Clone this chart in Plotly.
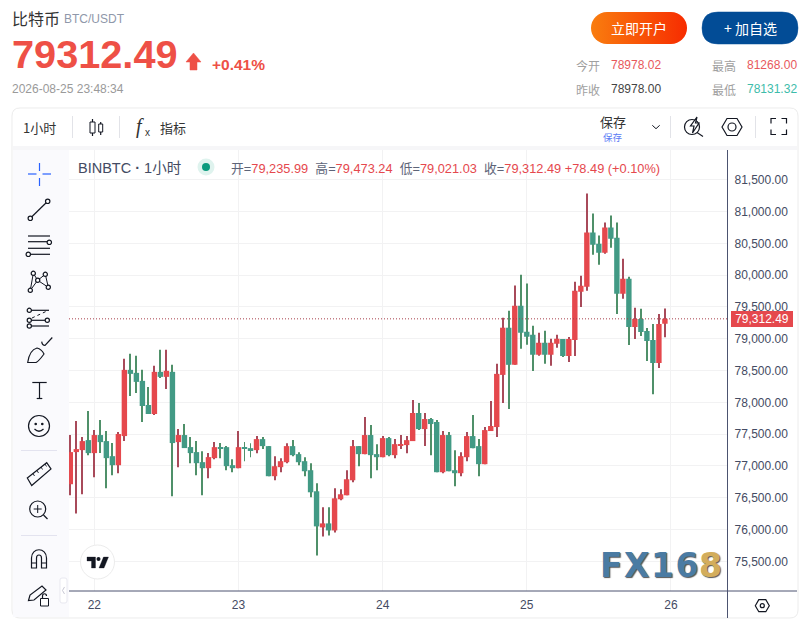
import base64
import pandas as pd
import plotly.graph_objects as go

# Hourly BTC candles
opens = [76712, 77217, 77248, 77406, 77201, 77485, 77390, 77153, 77011, 77469,
         78510, 78463, 78337, 77958, 77816, 78479, 78400, 78479, 77374, 77485,
         77296, 77217, 77059, 76964, 77122, 77295, 77295, 77011, 76964, 77295,
         77279, 77248, 77421, 77311, 76838, 76980, 77058, 77311, 77185, 77074,
         76932, 76601, 76033, 76096, 75985, 76475, 76538, 76774, 77311, 77185,
         77485, 77185, 77137, 77437, 77169, 77327, 77327, 77390, 77832, 77579,
         77737, 77690, 76901, 77485, 76932, 76885, 77137, 77469, 77311, 77027,
         77548, 77611, 78431, 79173, 78589, 79520, 79110, 79062, 78747, 78936,
         78747, 78920, 78995, 78727, 78980, 79737, 79816, 80668, 80494, 80352,
         80747, 80589, 79705, 79942, 79185, 79311, 79122, 78980, 78617, 79236]
highs = [77485, 77706, 77453, 77864, 77564, 77722, 77548, 77359, 77532, 78684,
         78763, 78731, 78510, 78242, 78574, 78826, 78826, 78589, 77580, 77658,
         77453, 77390, 77232, 77201, 77374, 77359, 77311, 77106, 77548, 77374,
         77358, 77469, 77453, 77311, 77153, 77122, 77358, 77406, 77216, 77137,
         77043, 76727, 76348, 76348, 76648, 76632, 76932, 77406, 77311, 77769,
         77642, 77342, 77469, 77453, 77421, 77484, 77469, 78037, 77989, 77832,
         77753, 77721, 77548, 77532, 77248, 77216, 77532, 77800, 77421, 77611,
         78021, 78605, 79331, 79441, 79836, 80004, 79867, 79205, 79094, 79126,
         78999, 79062, 78995, 79027, 79895, 79989, 81283, 80968, 80621, 80826,
         80936, 80826, 80258, 79974, 79485, 79469, 79169, 79232, 79390, 79473]
lows = [76538, 76250, 76554, 77169, 76822, 77201, 76649, 76854, 76885, 77390,
        78100, 78148, 77690, 77816, 77800, 78384, 78211, 76522, 76980, 77280,
        77043, 76854, 76538, 76806, 77106, 77122, 76933, 76901, 76964, 77074,
        77137, 77200, 77264, 76838, 76774, 76901, 77043, 77153, 77011, 76838,
        76506, 75591, 75891, 75907, 75954, 76459, 76538, 76743, 76995, 77185,
        76806, 76932, 77137, 77153, 77122, 77264, 77200, 77390, 77563, 77311,
        77169, 76901, 76885, 76916, 76680, 76838, 77074, 77279, 76838, 77027,
        77548, 77453, 77989, 77895, 78589, 78842, 78905, 78494, 78731, 78605,
        78573, 78857, 78711, 78632, 78727, 79500, 79753, 80321, 80163, 80337,
        80431, 79390, 79627, 78901, 78995, 79043, 78648, 78127, 78538, 79021]
closes = [77217, 77264, 77390, 77201, 77485, 77374, 77122, 77011, 77501, 78510,
          78447, 78321, 77942, 77816, 78479, 78400, 78495, 77359, 77485, 77280,
          77201, 77043, 76964, 77138, 77295, 77280, 76996, 76964, 77295, 77280,
          77248, 77421, 77311, 76838, 76995, 77074, 77311, 77169, 77058, 76916,
          76585, 76049, 76096, 75985, 76490, 76554, 76790, 77311, 77185, 77485,
          77169, 77137, 77437, 77169, 77342, 77342, 77405, 77832, 77579, 77737,
          77658, 76901, 77485, 76916, 76885, 77153, 77469, 77279, 77027, 77563,
          77627, 78447, 79173, 78589, 79520, 79094, 79031, 78747, 78936, 78747,
          78936, 78999, 78727, 78995, 79753, 79832, 80668, 80479, 80352, 80747,
          80573, 79705, 79942, 79185, 79311, 79106, 78964, 78617, 79232, 79312.49]
start_time = "2026-08-21 20:00"
day_ticks = ["2026-08-22", "2026-08-23", "2026-08-24", "2026-08-25", "2026-08-26"]
price_ticks = list(range(75500, 82000, 500))

UP = "#e5484d"
DOWN = "#429a85"
UP_WICK = "#a84a5a"
DOWN_WICK = "#4f9069"
INK = "#131722"
AXIS_TEXT = "#444b63"
SANS = "Liberation Sans, Noto Sans CJK SC"
CJK = "Noto Sans CJK SC, Liberation Sans"

times = pd.date_range(start_time, periods=len(opens), freq="h")
body_low = [min(o, c) for o, c in zip(opens, closes)]
body_size = [abs(c - o) for o, c in zip(opens, closes)]
body_color = [UP if c >= o else DOWN for o, c in zip(opens, closes)]
wick_size = [h - l for h, l in zip(highs, lows)]
wick_color = [UP_WICK if c >= o else DOWN_WICK for o, c in zip(opens, closes)]

fig = go.Figure()
# wicks are darker than the bodies, a Candlestick trace can't do that, so two bar traces
fig.add_trace(go.Bar(
    x=times, y=wick_size, base=lows, width=3600000 / 6,
    marker=dict(color=wick_color, line=dict(width=0)), showlegend=False,
))
fig.add_trace(go.Bar(
    x=times, y=body_size, base=body_low, width=3600000 * 0.9,
    marker=dict(color=body_color, line=dict(width=0)), showlegend=False,
))

shapes = []
notes = []
images = []


def px(x):
    return x / 810


def py(y):
    return 1 - y / 620


def add_line(x0, y0, x1, y1, color=INK, width=1.2, dash=None):
    shapes.append(dict(type="line", xref="paper", yref="paper", x0=px(x0), y0=py(y0), x1=px(x1), y1=py(y1),
                       line=dict(color=color, width=width, dash=dash)))


def add_box(x0, y0, x1, y1, fill, line=None):
    shapes.append(dict(type="rect", xref="paper", yref="paper", x0=px(x0), y0=py(y0), x1=px(x1), y1=py(y1),
                       fillcolor=fill, line=dict(color=line or fill, width=1 if line else 0), layer="below"))


def add_dot(cx, cy, r, fill="white", line=INK, width=1.2):
    shapes.append(dict(type="circle", xref="paper", yref="paper", x0=px(cx - r), y0=py(cy - r), x1=px(cx + r), y1=py(cy + r),
                       fillcolor=fill, line=dict(color=line, width=width)))


def add_path(cmds, fill="rgba(0,0,0,0)", line=INK, width=1.2):
    # cmds holds "M x y L x y ..." in screen pixels
    out, nums = [], []
    for tok in cmds.split():
        if tok.isalpha():
            out.append(tok)
        else:
            nums.append(float(tok))
            if len(nums) == 2:
                out.append(f"{px(nums[0]):.5f},{py(nums[1]):.5f}")
                nums = []
    shapes.append(dict(type="path", xref="paper", yref="paper", path=" ".join(out), fillcolor=fill,
                       line=dict(color=line, width=width)))


def add_text(x, y, text, size=12, color=INK, family=SANS, anchor="left", **extra):
    notes.append(dict(xref="paper", yref="paper", x=px(x), y=py(y), text=text, showarrow=False, xanchor=anchor,
                      yanchor="middle", borderpad=0, borderwidth=0, font=dict(size=size, color=color, family=family, **extra)))


# card, toolbars and the axis frame
add_path("M 20 108 L 790 108 Q 798 108 798 116 L 798 610 Q 798 618 790 618 L 20 618 Q 12 618 12 610 L 12 116 Q 12 108 20 108 Z",
         line="#ececec", width=1)
shapes[-1]["layer"] = "below"
add_box(13, 146, 797, 150, "#f6f6f8")
add_box(13, 150, 69, 617, "#fafafd")
add_line(727.5, 150, 727.5, 618, "#4c5370", 1)
add_line(69, 591, 797, 591, "#4c5370", 1)

# page header
add_text(12, 18, "比特币", 16, "#333333", CJK)
add_text(64, 19, "BTC/USDT", 12, "#8f98aa")
add_text(12, 54, "<b>79312.49</b>", 39.7, "#ee5046")
add_path("M 193.5 53 L 201 62 L 197 62 L 197 70 L 190 70 L 190 62 L 186 62 Z", fill="#ee5046", line="#ee5046", width=0.5)
add_text(212, 64, "<b>+0.41%</b>", 15.5, "#ee5046")
add_text(12, 89, "2026-08-25 23:48:34", 12, "#9a9a9a")

gradient = ('<svg xmlns="http://www.w3.org/2000/svg" width="96" height="32"><defs><linearGradient id="g">'
            '<stop offset="0" stop-color="#f97d0f"/><stop offset="1" stop-color="#f72c00"/></linearGradient></defs>'
            '<rect width="96" height="32" rx="16" fill="url(#g)"/></svg>')
images.append(dict(source="data:image/svg+xml;base64," + base64.b64encode(gradient.encode()).decode(),
                   xref="paper", yref="paper", x=px(591), y=py(12), sizex=96 / 810, sizey=32 / 620,
                   xanchor="left", yanchor="top", sizing="stretch", layer="below"))
add_text(639, 28, "立即开户", 14, "white", CJK, "center")
add_path("M 718 12 L 782 12 Q 798 12 798 28 Q 798 44 782 44 L 718 44 Q 702 44 702 28 Q 702 12 718 12 Z", fill="#024c96", line="#024c96", width=0.5)
add_text(750, 28, "+ 加自选", 14, "white", CJK, "center")

add_text(576, 65, "今开", 12, "#a0a0a0", CJK)
add_text(611, 65, "78978.02", 12, "#e8585c")
add_text(712, 65, "最高", 12, "#a0a0a0", CJK)
add_text(747, 65, "81268.00", 12, "#e8585c")
add_text(576, 89, "昨收", 12, "#a0a0a0", CJK)
add_text(611, 89, "78978.00", 12, "#444444")
add_text(712, 89, "最低", 12, "#a0a0a0", CJK)
add_text(747, 89, "78131.32", 12, "#3dbcaa")

# top toolbar
add_text(23, 128, "1小时", 13, "#333333", CJK)
add_line(72.5, 116, 72.5, 138, "#e2e3e8", 1)
add_line(119.5, 116, 119.5, 138, "#e2e3e8", 1)
add_line(92.5, 119, 92.5, 136)
add_box(90, 122, 95, 133, "white", INK)
shapes[-1]["layer"] = "above"
add_line(100.7, 122, 100.7, 135)
add_box(98.7, 124, 102.7, 132, "white", INK)
shapes[-1]["layer"] = "above"
add_text(136, 126.5, "<i>f</i>", 20, "#333333", "Liberation Serif")
add_text(145, 133, "x", 10, "#333333", "Liberation Sans")
add_text(160, 128, "指标", 13, "#333333", CJK)
add_text(613, 121.5, "保存", 13, "#333333", CJK, "center")
add_text(613, 137, "保存", 9.5, "#5b7cf5", CJK, "center")
add_path("M 652.3 125.3 L 656 128.7 L 659.7 125.3", width=1)
add_line(670.5, 116, 670.5, 138, "#e2e3e8", 1)
add_line(755.5, 116, 755.5, 138, "#e2e3e8", 1)
add_dot(692, 127, 7.5)
add_line(697, 132.5, 703, 136.5)
add_path("M 697 117 L 690.5 126 L 694 126 L 692.5 133 L 699 123 L 695.5 123 Z", fill="white")
add_path("M 722 127 L 727 118.5 L 737 118.5 L 742 127 L 737 135.5 L 727 135.5 Z")
add_dot(732, 127, 4)
for cx, cy, dx, dy in [(771, 118.5, 1, 1), (786.5, 118.5, -1, 1), (771, 134.5, 1, -1), (786.5, 134.5, -1, -1)]:
    add_path(f"M {cx + 5 * dx} {cy} L {cx} {cy} L {cx} {cy + 5 * dy}")

# left drawing tools
add_line(28, 174, 36.5, 174, "#2962ff", 1.2)
add_line(42.5, 174, 51, 174, "#2962ff", 1.2)
add_line(39.5, 163, 39.5, 171, "#2962ff", 1.2)
add_line(39.5, 178, 39.5, 186, "#2962ff", 1.2)

add_line(30.3, 218.3, 47.7, 201.3)
add_dot(30.3, 218.3, 2.2)
add_dot(47.7, 201.3, 2.2)

for ly in [236, 241.7, 248.3, 254.3]:
    add_line(28, ly, 50, ly)
add_dot(49.3, 242.3, 2.2)
add_dot(28.3, 254.3, 2.2)

pts = [(33.3, 273.3), (45.3, 274.3), (37.7, 280.3), (30.3, 290.3), (48.3, 287.3)]
for a, b in [(3, 0), (0, 2), (2, 1), (1, 4), (4, 2), (2, 3)]:
    add_line(pts[a][0], pts[a][1], pts[b][0], pts[b][1], width=1)
for cx, cy in pts:
    add_dot(cx, cy, 2.1)

add_line(29, 310.3, 49, 310.3)
add_line(29, 320.3, 47, 320.3)
add_line(29, 326, 49, 326)
add_line(32, 318, 47, 311, width=1, dash="dot")
for cx, cy in [(29.3, 310.3), (29.3, 320.3), (47.3, 320.3), (29.3, 326)]:
    add_dot(cx, cy, 2.1)

add_path("M 27.7 362.5 C 29 354 33 349 37 348 C 41 349 43 352 44 354 C 41 358 39 361 36 362.5 Z")
add_path("M 41.7 341.7 C 42 344 43 345.5 45 345.5 L 52.3 337.5")

add_line(32.3, 382.5, 46.7, 382.5)
add_line(39.5, 382.5, 39.5, 398.5)
add_line(36.7, 398.5, 42.3, 398.5)

add_dot(39, 426, 10.5, fill="rgba(0,0,0,0)")
add_dot(35.7, 424, 0.7, fill=INK)
add_dot(42.3, 424, 0.7, fill=INK)
add_path("M 34.5 429 Q 39 433.5 43.5 429")

add_line(21, 450.5, 57, 450.5, "#e3e3ef", 1)
add_path("M 27.3 478 L 46.7 462.7 L 51 469 L 31.7 485.5 Z")
for tx, ty in [(33, 473.5), (37, 470.5), (41, 467), (45, 464)]:
    add_line(tx, ty, tx + 1.5, ty + 2.5, width=0.9)
add_dot(37.7, 509, 8, fill="rgba(0,0,0,0)")
add_line(43.5, 515, 47.5, 519)
add_line(33.7, 509, 41.7, 509, width=1)
add_line(37.7, 505, 37.7, 513, width=1)
add_line(21, 535.5, 57, 535.5, "#e3e3ef", 1)

add_path("M 31.5 568 L 31.5 558 C 31.5 547 46.5 547 46.5 558 L 46.5 568 L 41.5 568 L 41.5 558 C 41.5 554 36.5 554 36.5 558 L 36.5 568 Z")
add_line(31.5, 563, 36.5, 563, width=1)
add_line(41.5, 563, 46.5, 563, width=1)
add_path("M 28.5 600.5 L 30 595 L 42 586 L 46 590 L 34 600 Z")
add_box(40.5, 598.5, 48.5, 606, "white", INK)
shapes[-1]["layer"] = "above"
add_path("M 42.5 598.5 L 42.5 596 C 42.5 593 46.5 593 46.5 596")
add_path("M 60 580 Q 60 578 62 578 L 65 578 Q 67 578 67 580 L 67 601 Q 67 603 65 603 L 62 603 Q 60 603 60 601 Z", fill="white", line="#e8e8f0", width=1)
add_path("M 64.5 587 L 62.5 590.5 L 64.5 594", line="#c8c8d4", width=1)

# chart legend row
add_text(78, 168, "BINBTC<b> · </b>1小时", 14.5, AXIS_TEXT, SANS)
add_dot(206, 167, 8.5, fill="#dff3ee", line="#dff3ee", width=0)
add_dot(206, 167, 4, fill="#0b9b7e", line="#0b9b7e", width=0)


def legend_item(label, value):
    return f'{label}=<span style="color:{UP}">{value}</span>'


legend_row = "  ".join([legend_item("开", "79,235.99"), legend_item("高", "79,473.24"),
                        legend_item("低", "79,021.03"), legend_item("收", "79,312.49")])
add_text(231, 168, legend_row + f' <span style="color:{UP}">+78.49 (+0.10%)</span>', 12.8, "#5d6478")

# current price line and tag
shapes.append(dict(type="line", xref="x domain", yref="y", x0=0, x1=1, y0=closes[-1], y1=closes[-1],
                   line=dict(color="#a83f4b", width=1, dash="1px,2px")))
notes.append(dict(xref="paper", yref="y", x=px(731), y=closes[-1], text=f"{closes[-1]:,.2f}", showarrow=False,
                  xanchor="left", yanchor="middle", width=62, height=16, bgcolor=UP, borderpad=0, borderwidth=0,
                  font=dict(size=12, color="white", family=SANS)))

# tradingview mark, watermark, settings
add_dot(97.5, 562, 17, fill="white", line="#ececec", width=1)
add_path("M 87 557 L 95.5 557 L 95.5 568 L 91.5 568 L 91.5 561 L 87 561 Z", fill=INK, line=INK, width=0.3)
add_dot(98.5, 559, 2, fill=INK, line=INK, width=0)
add_path("M 103.5 557 L 108.5 557 L 104 568 L 99 568 Z", fill=INK, line=INK, width=0.3)

add_text(600, 565, '<b><span style="letter-spacing:1.5px">FX16</span></b>', 33, "#4a7ba3", "DejaVu Sans", shadow="1px 1px 1px #555555")
add_text(699, 565, "<b>8</b>", 33, "#d3ad5c", "DejaVu Sans", shadow="1px 1px 1px #555555")

add_path("M 755.3 605.7 L 758.8 599.7 L 765.8 599.7 L 769.3 605.7 L 765.8 611.7 L 758.8 611.7 Z")
add_dot(762.3, 605.7, 2)

hour = pd.Timedelta(hours=1)
fig.update_layout(
    width=810, height=620, autosize=False,
    margin=dict(l=0, r=0, t=0, b=0),
    paper_bgcolor="white", plot_bgcolor="rgba(0,0,0,0)",
    barmode="overlay",
    hovermode=False,
    showlegend=False,
    shapes=shapes, annotations=notes, images=images,
    xaxis=dict(
        domain=[69 / 810, 727.5 / 810],
        range=[times[0] - 0.22 * hour, times[0] + 109.42 * hour],
        type="date",
        tickvals=day_ticks, tickformat="%-d",
        showgrid=True, gridcolor="#f2f2f3", gridwidth=1, zeroline=False, showline=False, ticks="",
        ticklabelstandoff=5,
        tickfont=dict(size=12, color=AXIS_TEXT, family=SANS),
    ),
    yaxis=dict(
        domain=[1 - 591 / 620, 1 - 150 / 620],
        range=[75033, 81967],
        side="right",
        tickvals=price_ticks, tickformat=",.2f",
        showgrid=True, gridcolor="#f2f2f3", gridwidth=1, zeroline=False, showline=False, ticks="",
        ticklabelstandoff=6,
        tickfont=dict(size=12, color=AXIS_TEXT, family=SANS),
    ),
)

# the page's default body margin would push everything 8px off
fig.write_html("out.html", config=dict(displayModeBar=False), post_script="document.body.style.margin='0';")
